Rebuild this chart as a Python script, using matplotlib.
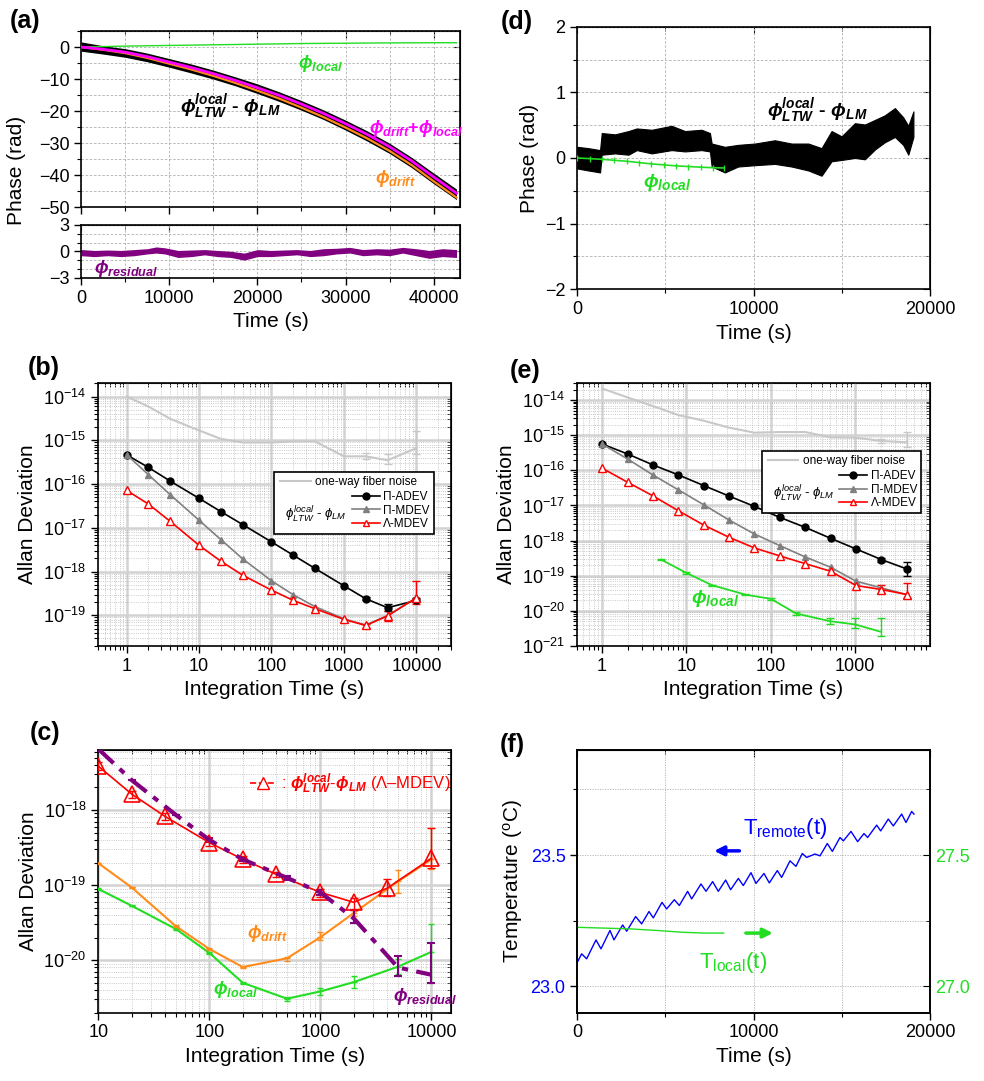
import numpy as np
import matplotlib.pyplot as plt
from matplotlib.lines import Line2D
from matplotlib.patches import Rectangle
from matplotlib.ticker import MultipleLocator, NullFormatter, FuncFormatter, FormatStrFormatter

plt.rcParams['font.family'] = ['Liberation Sans', 'DejaVu Sans']
plt.rcParams['mathtext.fontset'] = 'custom'
plt.rcParams['mathtext.rm'] = 'Liberation Sans'
plt.rcParams['mathtext.it'] = 'Liberation Sans:italic'
plt.rcParams['mathtext.bf'] = 'Liberation Sans:bold'
plt.rcParams['mathtext.bfit'] = 'Liberation Sans:italic:bold'
plt.rcParams['mathtext.fallback'] = 'stixsans'

GREEN = '#22dd22'
ORANGE = '#ff8c1a'
MAGENTA = '#ff00ff'
PURPLE = '#800080'
BLUE = '#0000ff'
GRAY = '#808080'
FIBER = '#c8c8c8'

# ---- (a) long-term phase, 43000 s ----
a_t = [0, 2500, 5000, 7500, 10000, 12500, 15000, 17500, 20000, 22500, 25000,
       27500, 30000, 32500, 35000, 37500, 40000, 42600]
a_sum = [0, -0.7, -1.6, -3.0, -4.7, -6.4, -8.3, -10.4, -12.7, -15.1, -17.8,
         -20.7, -23.9, -27.3, -31.1, -35.5, -40.5, -45.6]
a_local = [0, 0.15, 0.3, 0.4, 0.5, 0.6, 0.7, 0.8, 0.9, 1.0, 1.1,
           1.15, 1.2, 1.25, 1.3, 1.32, 1.35, 1.35]
a_drift = [0, -0.85, -1.9, -3.4, -5.2, -7.0, -9.0, -11.2, -13.6, -16.1, -18.9,
           -21.85, -25.1, -28.55, -32.4, -36.8, -41.85, -46.95]
a_meas_hi = [1.6, 0.4, -0.5, -1.9, -3.6, -5.3, -7.2, -9.3, -11.5, -14.0, -16.7,
             -19.6, -22.8, -26.2, -30.0, -34.4, -39.3, -44.3]
a_meas_lo = [-1.3, -2.2, -3.2, -4.6, -6.3, -8.1, -10.0, -12.1, -14.5, -17.0, -19.7,
             -22.6, -25.9, -29.4, -33.2, -37.6, -42.6, -47.6]
r_t = [0, 1500, 3000, 4500, 6000, 7500, 8500, 9500, 11000, 12500, 14000, 15500,
       17000, 18500, 20000, 21500, 23000, 24500, 26000, 27500, 29000, 30500,
       32000, 33500, 35000, 36500, 38000, 39500, 41000, 42600]
r_hi = [0.2, 0.1, 0.15, 0.1, 0.2, 0.3, 0.5, 0.4, 0.1, 0.15, 0.2, 0.1, 0.0, -0.2,
        0.2, 0.1, 0.15, 0.2, 0.1, 0.3, 0.35, 0.45, 0.2, 0.3, 0.25, 0.45, 0.3,
        0.1, 0.3, 0.2]
r_lo = [-0.5, -0.6, -0.5, -0.6, -0.5, -0.3, -0.2, -0.3, -0.7, -0.6, -0.4, -0.6,
        -0.7, -1.0, -0.6, -0.6, -0.5, -0.4, -0.6, -0.5, -0.3, -0.2, -0.5, -0.4,
        -0.5, -0.2, -0.5, -0.8, -0.6, -0.7]

# ---- (b) Allan deviation, long-term ----
b_tau = [1, 2, 4, 10, 20, 40, 100, 200, 400, 1000, 2000, 4000, 10000]
b_fiber = [1.0e-14, 5.9e-15, 3.1e-15, 1.68e-15, 1.08e-15, 8.9e-16, 8.9e-16,
           9.4e-16, 9.4e-16, 4.3e-16, 4.3e-16, 3.5e-16, 6.6e-16]
b_pi_adev = [4.68e-16, 2.40e-16, 1.17e-16, 4.73e-17, 2.35e-17, 1.19e-17, 4.77e-18,
             2.37e-18, 1.18e-18, 4.74e-19, 2.40e-19, 1.50e-19, 2.2e-19]
b_pi_mdev = [4.7e-16, 1.64e-16, 5.73e-17, 1.49e-17, 5.4e-18, 1.96e-18, 6.17e-19,
             2.96e-19, 1.58e-19, 8.4e-20, 6.0e-20, 1.0e-19, 2.5e-19]
b_lam_mdev = [7.2e-17, 3.5e-17, 1.41e-17, 4.0e-18, 1.73e-18, 8.3e-19, 3.78e-19,
              2.20e-19, 1.42e-19, 8.1e-20, 5.9e-20, 9.7e-20, 2.53e-19]
b_err_tau = [2000, 4000, 10000]
b_lam_lo = [5.2e-20, 7.4e-20, 1.78e-19]
b_lam_hi = [6.5e-20, 1.26e-19, 6.07e-19]
b_adev_lo = [2.2e-19, 1.26e-19, 2.0e-19]
b_adev_hi = [2.6e-19, 1.78e-19, 2.5e-19]
b_fiber_lo = [3.7e-16, 2.9e-16, 4.9e-16]
b_fiber_hi = [5.0e-16, 4.9e-16, 1.59e-15]

# ---- (c) noise contributions (Lambda-MDEV) ----
c_tau = [10, 20, 40, 100, 200, 400, 1000, 2000, 4000, 10000]
c_meas = [3.84e-18, 1.63e-18, 8.2e-19, 3.68e-19, 2.21e-19, 1.39e-19, 8.0e-20,
          5.9e-20, 9.1e-20, 2.28e-19]
c_meas_lo = [3.4e-18, 1.45e-18, 7.4e-19, 3.3e-19, 2.0e-19, 1.3e-19, 7.0e-20,
             4.7e-20, 7.2e-20, 1.68e-19]
c_meas_hi = [4.3e-18, 1.8e-18, 9.0e-19, 4.0e-19, 2.45e-19, 1.5e-19, 9.0e-20,
             6.7e-20, 1.2e-19, 5.8e-19]
c_tau2 = [10, 20, 50, 100, 200, 500, 1000, 2000, 5000, 10000]
c_resid = [6.5e-18, 2.5e-18, 8.6e-19, 4.0e-19, 2.2e-19, 1.25e-19, 8.0e-20,
           3.6e-20, 8.0e-21, 6.4e-21]
c_resid_lo = [6.5e-18, 2.5e-18, 8.6e-19, 3.8e-19, 2.1e-19, 1.18e-19, 7.4e-20,
              3.1e-20, 6.1e-21, 4.9e-21]
c_resid_hi = [6.5e-18, 2.5e-18, 8.6e-19, 4.2e-19, 2.3e-19, 1.32e-19, 8.6e-20,
              4.7e-20, 1.15e-20, 1.7e-20]
c_drift = [1.96e-19, 9.3e-20, 2.83e-20, 1.41e-20, 8.1e-21, 1.06e-20, 2.02e-20,
           4.25e-20, 1.12e-19, 2.2e-19]
c_drift_lo = [1.93e-19, 9.1e-20, 2.75e-20, 1.37e-20, 7.8e-21, 9.8e-21, 1.84e-20,
              3.9e-20, 7.8e-20, 1.65e-19]
c_drift_hi = [1.99e-19, 9.5e-20, 2.9e-20, 1.45e-20, 8.4e-21, 1.12e-20, 2.35e-20,
              4.6e-20, 1.6e-19, 5.8e-19]
c_local = [8.9e-20, 5.3e-20, 2.6e-20, 1.25e-20, 5.0e-21, 3.07e-21, 3.84e-21,
           5.1e-21, 8.2e-21, 1.29e-20]
c_local_lo = [8.7e-20, 5.2e-20, 2.5e-20, 1.2e-20, 4.8e-21, 2.9e-21, 3.4e-21,
              4.2e-21, 6.5e-21, 4.9e-21]
c_local_hi = [9.1e-20, 5.4e-20, 2.7e-20, 1.3e-20, 5.2e-21, 3.25e-21, 4.3e-21,
              6.1e-21, 1.05e-20, 3.07e-20]

# ---- (d) short-term phase, 19000 s (noise envelope) ----
d_t = [0, 625, 1290, 1385, 2140, 2900, 3370, 4220, 5350, 6110, 7050, 7520, 7620,
       8370, 9120, 10070, 11200, 12150, 13100, 13850, 14420, 14990, 15740,
       16310, 16880, 17440, 18010, 18480, 18770, 19060]
d_hi = [0.17, 0.15, 0.12, 0.38, 0.36, 0.41, 0.45, 0.43, 0.49, 0.41, 0.43, 0.38,
        0.22, 0.17, 0.20, 0.22, 0.27, 0.22, 0.22, 0.15, 0.41, 0.33, 0.53, 0.51,
        0.58, 0.65, 0.76, 0.62, 0.49, 0.71]
d_lo = [-0.16, -0.19, -0.22, 0.05, 0.07, 0.05, 0.12, 0.07, 0.12, 0.10, 0.12,
        0.10, -0.13, -0.22, -0.13, -0.11, -0.09, -0.13, -0.19, -0.27, -0.05,
        -0.03, 0.0, -0.02, 0.13, 0.24, 0.32, 0.20, 0.05, 0.32]
d_local_t = [0, 700, 1400, 2100, 2800, 3500, 4200, 4900, 5600, 6300, 7000, 7700, 8300]
d_local = [0, -0.01, -0.02, -0.035, -0.05, -0.07, -0.09, -0.105, -0.12, -0.13,
           -0.14, -0.148, -0.152]

# ---- (e) Allan deviation, short-term ----
e_tau = [1, 2, 4, 8, 16, 32, 64, 128, 256, 512, 1024, 2048, 4096]
e_fiber = [2.14e-14, 1.19e-14, 6.76e-15, 3.75e-15, 2.59e-15, 1.64e-15, 1.18e-15,
           1.23e-15, 1.23e-15, 8.7e-16, 8.5e-16, 6.86e-16, 6.3e-16]
e_pi_adev = [5.64e-16, 2.93e-16, 1.43e-16, 7.43e-17, 3.70e-17, 1.85e-17, 9.4e-18,
             4.57e-18, 2.38e-18, 1.16e-18, 5.78e-19, 2.88e-19, 1.56e-19]
e_pi_mdev = [5.6e-16, 2.11e-16, 7.4e-17, 2.79e-17, 1.05e-17, 3.85e-18, 1.54e-18,
             7.2e-19, 3.42e-19, 1.74e-19, 6.98e-20, 4.5e-20, 2.9e-20]
e_lam_mdev = [1.15e-16, 4.6e-17, 1.88e-17, 7.1e-18, 2.77e-18, 1.24e-18, 6.17e-19,
              3.66e-19, 2.21e-19, 1.34e-19, 5.26e-20, 4.05e-20, 2.92e-20]
e_err_tau = [2048, 4096]
e_adev_lo = [2.4e-19, 1.0e-19]
e_adev_hi = [3.3e-19, 2.4e-19]
e_lam_lo = [3.2e-20, 2.35e-20]
e_lam_hi = [5.5e-20, 6.3e-20]
e_fiber_lo = [5.9e-16, 4.5e-16]
e_fiber_hi = [8.0e-16, 1.26e-15]
e_local_tau = [5, 10, 20, 50, 100, 200, 500, 1000, 2000]
e_local = [2.88e-19, 1.2e-19, 5.4e-20, 2.9e-20, 2.2e-20, 8.4e-21, 5.1e-21,
           4.1e-21, 2.55e-21]
e_local_lo = [2.85e-19, 1.15e-19, 5.2e-20, 2.8e-20, 2.0e-20, 7.4e-21, 4.1e-21,
              3.3e-21, 1.9e-21]
e_local_hi = [2.9e-19, 1.25e-19, 5.6e-20, 3.0e-20, 2.4e-20, 9.5e-21, 6.2e-21,
              6.2e-21, 6.2e-21]

# ---- (f) temperatures ----
f_remote_t = [0, 246, 529, 1059, 1342, 1853, 2079, 2571, 2798, 3308, 3648, 4064,
              4310, 4802, 5066, 5501, 5785, 6257, 6484, 7013, 7297, 7675, 7996,
              8412, 8696, 9131, 9414, 9849, 10133, 10586, 10889, 11342, 11588,
              12061, 12401, 12760, 13006, 13479, 13762, 14178, 14462, 14897,
              15086, 15520, 15898, 16257, 16465, 16976, 17203, 17637, 17921,
              18394, 18640, 18961, 19093]
f_remote = [23.092, 23.124, 23.105, 23.177, 23.143, 23.213, 23.177, 23.234,
            23.210, 23.266, 23.238, 23.285, 23.261, 23.320, 23.295, 23.330,
            23.308, 23.362, 23.333, 23.390, 23.362, 23.399, 23.362, 23.405,
            23.368, 23.411, 23.384, 23.433, 23.392, 23.430, 23.394, 23.441,
            23.415, 23.478, 23.457, 23.506, 23.491, 23.504, 23.497, 23.544,
            23.514, 23.567, 23.554, 23.590, 23.551, 23.582, 23.567, 23.614,
            23.592, 23.637, 23.611, 23.656, 23.624, 23.666, 23.656]
f_local_t = [0, 1500, 3000, 4500, 6000, 7200, 8300]
f_local = [27.225, 27.222, 27.219, 27.213, 27.206, 27.203, 27.203]


def bphi(sub, sup=None):
    s = r'\mathbfit{\phi}'
    if sup:
        s += r'^{\mathbfit{%s}}' % sup
    return s + r'_{\mathbfit{%s}}' % sub


MEAS_BOLD = r'$%s$ - $%s$' % (bphi('LTW', 'local'), bphi('LM'))
MEAS_THIN = r'$\phi^{local}_{LTW}$ - $\phi_{LM}$'


def style_axes(ax):
    ax.tick_params(which='both', direction='out', labelsize=13)
    ax.tick_params(which='major', length=5, width=1)
    ax.tick_params(which='minor', length=3, width=0.8)
    for sp in ax.spines.values():
        sp.set_linewidth(1.2)


def mirror(ax, x=True, y=True, xloc=None, yloc=None):
    if x:
        top = ax.secondary_xaxis('top')
        top.tick_params(which='both', direction='in')
        top.tick_params(which='major', length=5)
        top.tick_params(which='minor', length=3)
        if xloc:
            top.xaxis.set_major_locator(MultipleLocator(xloc[0]))
            top.xaxis.set_minor_locator(MultipleLocator(xloc[1]))
        top.xaxis.set_major_formatter(NullFormatter())
        top.xaxis.set_minor_formatter(NullFormatter())
    if y:
        right = ax.secondary_yaxis('right')
        right.tick_params(which='both', direction='in')
        right.tick_params(which='major', length=5)
        right.tick_params(which='minor', length=3)
        if yloc:
            right.yaxis.set_major_locator(MultipleLocator(yloc[0]))
            right.yaxis.set_minor_locator(MultipleLocator(yloc[1]))
        right.yaxis.set_major_formatter(NullFormatter())
        right.yaxis.set_minor_formatter(NullFormatter())


def log_grid(ax):
    ax.grid(which='major', color='#d2d2d2', lw=1.8)
    ax.grid(which='minor', color='#b8b8b8', lw=0.6, ls=':')
    ax.set_axisbelow(True)
    ax.xaxis.set_major_formatter(FuncFormatter(lambda v, p: f'{v:g}'))


def err(ax, x, y, lo, hi, color, cap=3, lw=1.0):
    y = np.asarray(y)
    yerr = [y - np.asarray(lo), np.asarray(hi) - y]
    ax.errorbar(x, y, yerr=yerr, fmt='none', ecolor=color, capsize=cap, elinewidth=lw,
                capthick=lw, zorder=3)


def adev_legend(ax, box, label_pos):
    x0, y0, w, h = box
    ax.add_patch(Rectangle((x0, y0), w, h, transform=ax.transAxes, fc='white',
                           ec='black', lw=1.2, zorder=6))
    leg1 = ax.legend([Line2D([], [], color=FIBER, lw=1.5)], ['one-way fiber noise'],
                     loc='upper left', bbox_to_anchor=(x0 + 0.005, y0 + h), frameon=False,
                     fontsize=8.5, handlelength=2.6, handletextpad=0.4, borderpad=0.15,
                     borderaxespad=0.2)
    leg1.set_zorder(7)
    ax.add_artist(leg1)
    hs = [Line2D([], [], color='black', marker='o', ms=5, lw=1.2),
          Line2D([], [], color=GRAY, marker='^', ms=5, lw=1.2),
          Line2D([], [], color='red', marker='^', ms=5, mfc='white', lw=1.2)]
    leg2 = ax.legend(hs, ['Π-ADEV', 'Π-MDEV', 'Λ-MDEV'], loc='lower right',
                     bbox_to_anchor=(x0 + w, y0), frameon=False, fontsize=8.5,
                     handlelength=2.4, handletextpad=0.3, labelspacing=0.12,
                     borderpad=0.15, borderaxespad=0.2)
    leg2.set_zorder(7)
    ax.text(label_pos[0], label_pos[1], MEAS_THIN, transform=ax.transAxes, fontsize=9.5,
            ha='left', va='center', zorder=8)


fig = plt.figure(figsize=(9.84, 10.81), dpi=100)

# ===== (a) =====
ax = fig.add_axes([0.0826, 0.8082, 0.3849, 0.1631])
ax.fill_between(a_t, a_meas_lo, a_meas_hi, color='black', lw=0, zorder=2)
ax.plot(a_t, a_drift, color=ORANGE, lw=1.6, zorder=3)
ax.plot(a_t, a_sum, color=MAGENTA, lw=2.0, zorder=4)
ax.plot(a_t, a_local, color=GREEN, lw=1.0, zorder=3)
ax.set_xlim(0, 43000)
ax.set_ylim(-50, 5)
ax.xaxis.set_major_locator(MultipleLocator(10000))
ax.xaxis.set_minor_locator(MultipleLocator(5000))
ax.yaxis.set_major_locator(MultipleLocator(10))
ax.yaxis.set_minor_locator(MultipleLocator(5))
ax.grid(which='both', color='#b0b0b0', lw=0.6, ls=(0, (3, 2)))
style_axes(ax)
ax.tick_params(labelbottom=False)
mirror(ax, xloc=(10000, 5000), yloc=(10, 5))
ax.set_ylabel('Phase (rad)', fontsize=15)
ax.yaxis.set_label_coords(-0.145, 0.21)
ax.text(24600, -5.2, r'$%s$' % bphi('local'), color=GREEN, fontsize=13, va='center')
ax.text(11200, -18.7, MEAS_BOLD, color='black', fontsize=14, va='center',
        fontweight='bold')
ax.text(32700, -25.4, r'$%s$+$%s$' % (bphi('drift'), bphi('local')), color=MAGENTA,
        fontsize=13, va='center', fontweight='bold')
ax.text(33300, -41, r'$%s$' % bphi('drift'), color=ORANGE, fontsize=13, va='center')

ax = fig.add_axes([0.0826, 0.7431, 0.3849, 0.0488])
ax.fill_between(r_t, r_lo, r_hi, color=PURPLE, lw=0, zorder=2)
ax.set_xlim(0, 43000)
ax.set_ylim(-3, 3)
ax.xaxis.set_major_locator(MultipleLocator(10000))
ax.xaxis.set_minor_locator(MultipleLocator(5000))
ax.yaxis.set_major_locator(MultipleLocator(3))
ax.yaxis.set_minor_locator(MultipleLocator(1))
ax.grid(which='both', color='#b0b0b0', lw=0.6, ls=(0, (3, 2)))
style_axes(ax)
mirror(ax, xloc=(10000, 5000), yloc=(3, 1))
ax.set_xlabel('Time (s)', fontsize=15)
ax.text(1440, -1.9, r'$%s$' % bphi('residual'), color=PURPLE, fontsize=13, va='center')

# ===== (b) =====
ax = fig.add_axes([0.0993, 0.4024, 0.3590, 0.2430])
ax.set_xscale('log')
ax.set_yscale('log')
ax.plot(b_tau, b_fiber, color=FIBER, lw=1.5, zorder=3)
err(ax, b_err_tau, b_fiber[-3:], b_fiber_lo, b_fiber_hi, FIBER)
ax.plot(b_tau, b_pi_adev, 'o-', color='black', ms=5, lw=1.2, zorder=4)
ax.plot(b_tau, b_pi_mdev, '^-', color=GRAY, ms=5, lw=1.2, zorder=4)
ax.plot(b_tau, b_lam_mdev, '^-', color='red', mfc='white', ms=6, lw=1.2, zorder=5)
err(ax, b_err_tau, b_pi_adev[-3:], b_adev_lo, b_adev_hi, 'black')
err(ax, b_err_tau, b_lam_mdev[-3:], b_lam_lo, b_lam_hi, 'red')
ax.set_xlim(0.4, 30000)
ax.set_ylim(2e-20, 2e-14)
log_grid(ax)
style_axes(ax)
mirror(ax)
ax.set_xlabel('Integration Time (s)', fontsize=15)
ax.set_ylabel('Allan Deviation', fontsize=15)
adev_legend(ax, (0.499, 0.426, 0.453, 0.237), (0.53, 0.50))

# ===== (c) =====
ax = fig.add_axes([0.0999, 0.0632, 0.3584, 0.2430])
ax.set_xscale('log')
ax.set_yscale('log')
ax.plot(c_tau2, c_local, '_-', color=GREEN, lw=1.5, ms=5, zorder=3)
err(ax, c_tau2, c_local, c_local_lo, c_local_hi, GREEN, cap=2)
ax.plot(c_tau2, c_drift, '_-', color=ORANGE, lw=1.5, ms=5, zorder=3)
err(ax, c_tau2, c_drift, c_drift_lo, c_drift_hi, ORANGE, cap=2)
ax.plot(c_tau, c_meas, '^-', color='red', mfc='none', ms=12, mew=1.2, lw=1.2, zorder=4)
err(ax, c_tau, c_meas, c_meas_lo, c_meas_hi, 'red', cap=3)
ax.plot(c_tau2, c_resid, color=PURPLE, lw=3, ls=(0, (5, 2, 1.5, 2)), zorder=5)
err(ax, c_tau2, c_resid, c_resid_lo, c_resid_hi, PURPLE, cap=3, lw=1.5)
ax.set_xlim(10, 15000)
ax.set_ylim(2e-21, 6.3e-18)
log_grid(ax)
style_axes(ax)
mirror(ax)
ax.set_xlabel('Integration Time (s)', fontsize=15)
ax.set_ylabel('Allan Deviation', fontsize=15)
ax.legend([Line2D([], [], color='red', ls='--', marker='^', mfc='white', ms=9, lw=1.2)],
          [r': $\mathbfit{\phi}^{\mathbfit{local}}_{\mathbfit{LTW}}$-'
           r'$\mathbfit{\phi}_{\mathbfit{LM}}$ (Λ–MDEV)'],
          loc='center left', bbox_to_anchor=(0.41, 0.873), frameon=False, fontsize=12,
          labelcolor='red', handlelength=1.6, handletextpad=0.3, borderaxespad=0)
ax.text(217, 2.3e-20, r'$%s$' % bphi('drift'), color=ORANGE, fontsize=13, va='center')
ax.text(108, 4.1e-21, r'$%s$' % bphi('local'), color=GREEN, fontsize=13, va='center')
ax.text(4530, 3.3e-21, r'$%s$' % bphi('residual'), color=PURPLE, fontsize=13,
        va='center')

# ===== (d) =====
ax = fig.add_axes([0.5867, 0.7324, 0.3584, 0.2429])
ax.fill_between(d_t, d_lo, d_hi, color='black', lw=0.8, edgecolor='black', zorder=2)
ax.plot(d_local_t, d_local, '|-', color=GREEN, ms=5, lw=1.2, zorder=3)
ax.set_xlim(0, 20000)
ax.set_ylim(-2, 2)
ax.xaxis.set_major_locator(MultipleLocator(10000))
ax.xaxis.set_minor_locator(MultipleLocator(5000))
ax.yaxis.set_major_locator(MultipleLocator(1))
ax.yaxis.set_minor_locator(MultipleLocator(0.5))
ax.grid(which='both', color='#b0b0b0', lw=0.6, ls=(0, (3, 2)))
style_axes(ax)
mirror(ax, xloc=(10000, 5000), yloc=(1, 0.5))
ax.set_xlabel('Time (s)', fontsize=15)
ax.set_ylabel('Phase (rad)', fontsize=15)
ax.text(10740, 0.72, MEAS_BOLD, color='black', fontsize=14, va='center',
        fontweight='bold')
ax.text(3750, -0.38, r'$%s$' % bphi('local'), color=GREEN, fontsize=14, va='center')

# ===== (e) =====
ax = fig.add_axes([0.5861, 0.4024, 0.3590, 0.2430])
ax.set_xscale('log')
ax.set_yscale('log')
ax.plot(e_tau, e_fiber, color=FIBER, lw=1.5, zorder=3)
err(ax, e_err_tau, e_fiber[-2:], e_fiber_lo, e_fiber_hi, FIBER)
ax.plot(e_tau, e_pi_adev, 'o-', color='black', ms=5, lw=1.2, zorder=4)
ax.plot(e_tau, e_pi_mdev, '^-', color=GRAY, ms=5, lw=1.2, zorder=4)
ax.plot(e_tau, e_lam_mdev, '^-', color='red', mfc='white', ms=6, lw=1.2, zorder=5)
err(ax, e_err_tau, e_pi_adev[-2:], e_adev_lo, e_adev_hi, 'black')
err(ax, e_err_tau, e_lam_mdev[-2:], e_lam_lo, e_lam_hi, 'red')
ax.plot(e_local_tau, e_local, color=GREEN, lw=1.3, zorder=3)
err(ax, e_local_tau, e_local, e_local_lo, e_local_hi, GREEN, cap=3)
ax.set_xlim(0.5, 7700)
ax.set_ylim(1e-21, 3e-14)
log_grid(ax)
style_axes(ax)
mirror(ax)
ax.set_xlabel('Integration Time (s)', fontsize=15)
ax.set_ylabel('Allan Deviation', fontsize=15)
adev_legend(ax, (0.524, 0.505, 0.451, 0.237), (0.555, 0.58))
ax.text(11.4, 2.3e-20, r'$%s$' % bphi('local'), color=GREEN, fontsize=14, va='center')

# ===== (f) =====
ax = fig.add_axes([0.5867, 0.0632, 0.3584, 0.2430])
ax.plot(f_remote_t, f_remote, color=BLUE, lw=1.0)
ax.set_xlim(0, 20000)
ax.set_ylim(22.9, 23.9)
ax.xaxis.set_major_locator(MultipleLocator(10000))
ax.xaxis.set_minor_locator(MultipleLocator(5000))
ax.yaxis.set_major_locator(MultipleLocator(0.5))
ax.yaxis.set_minor_locator(MultipleLocator(0.25))
ax.yaxis.set_major_formatter(FormatStrFormatter('%.1f'))
ax.grid(which='both', color='#b0b0b0', lw=0.6, ls=(0, (1.5, 1.5)))
style_axes(ax)
ax.tick_params(axis='y', which='both', labelcolor=BLUE)
mirror(ax, y=False, xloc=(10000, 5000))
ax.set_xlabel('Time (s)', fontsize=15)
ax.set_ylabel(r'Temperature ($^{\rm o}$C)', fontsize=15)
ax.annotate('', xy=(7600, 23.516), xytext=(9350, 23.516),
            arrowprops=dict(arrowstyle='-|>', color=BLUE, lw=2.5, mutation_scale=14))
ax.text(9400, 23.6, r'T$_{\rm remote}$(t)', color=BLUE, fontsize=16, va='center')

ax2 = ax.twinx()
ax2.plot(f_local_t, f_local, color=GREEN, lw=1.0)
ax2.set_ylim(26.9, 27.9)
ax2.yaxis.set_major_locator(MultipleLocator(0.5))
ax2.yaxis.set_minor_locator(MultipleLocator(0.25))
ax2.yaxis.set_major_formatter(FormatStrFormatter('%.1f'))
ax2.tick_params(which='both', direction='in', labelsize=13, labelcolor=GREEN)
ax2.tick_params(which='major', length=5)
ax2.tick_params(which='minor', length=3)
for sp in ax2.spines.values():
    sp.set_linewidth(1.2)
ax2.annotate('', xy=(11250, 27.203), xytext=(9400, 27.203),
             arrowprops=dict(arrowstyle='-|>', color=GREEN, lw=2.5, mutation_scale=14))
ax2.text(6900, 27.09, r'T$_{\rm local}$(t)', color=GREEN, fontsize=16, va='center')

for lab, x, y in [('(a)', 0.010, 0.981), ('(b)', 0.028, 0.660), ('(c)', 0.030, 0.322),
                  ('(d)', 0.509, 0.980), ('(e)', 0.518, 0.657), ('(f)', 0.508, 0.311)]:
    fig.text(x, y, lab, fontsize=18, fontweight='bold', va='center')

fig.savefig('out.png', dpi=100)
